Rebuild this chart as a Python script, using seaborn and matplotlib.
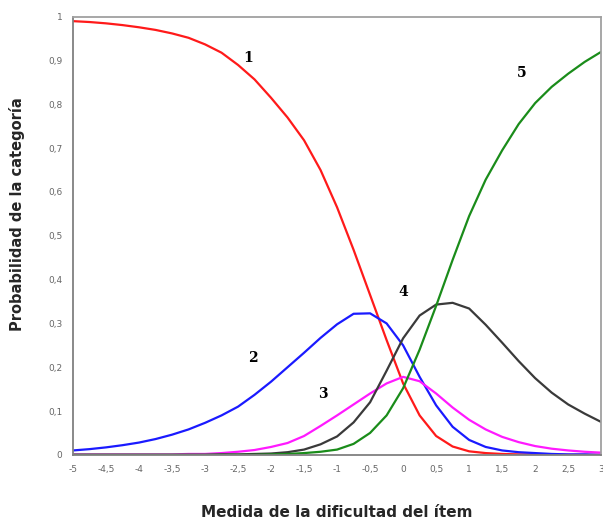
import numpy as np
import pandas as pd
import matplotlib
matplotlib.use('Agg')
import matplotlib.pyplot as plt
import seaborn as sns
from matplotlib.ticker import FuncFormatter, MultipleLocator

# medida de la dificultad del ítem (cada 0,25)
theta = [-5, -4.75, -4.5, -4.25, -4, -3.75, -3.5, -3.25, -3, -2.75, -2.5,
         -2.25, -2, -1.75, -1.5, -1.25, -1, -0.75, -0.5, -0.25, 0, 0.25,
         0.5, 0.75, 1, 1.25, 1.5, 1.75, 2, 2.25, 2.5, 2.75, 3]

# probabilidad de cada categoría
cat1 = [0.990, 0.988, 0.985, 0.981, 0.976, 0.970, 0.962, 0.952, 0.937, 0.918,
        0.890, 0.857, 0.815, 0.770, 0.718, 0.650, 0.565, 0.468, 0.365, 0.262,
        0.163, 0.090, 0.043, 0.019, 0.008, 0.004, 0.002, 0.001, 0.001, 0.0,
        0.0, 0.0, 0.0]
cat2 = [0.010, 0.013, 0.017, 0.022, 0.028, 0.036, 0.046, 0.058, 0.073, 0.090,
        0.110, 0.137, 0.167, 0.200, 0.233, 0.267, 0.298, 0.322, 0.323, 0.300,
        0.250, 0.178, 0.113, 0.064, 0.034, 0.018, 0.010, 0.006, 0.004, 0.002,
        0.001, 0.001, 0.0]
cat3 = [0.001, 0.001, 0.001, 0.001, 0.001, 0.001, 0.001, 0.002, 0.002, 0.004,
        0.007, 0.011, 0.018, 0.027, 0.043, 0.066, 0.090, 0.115, 0.140, 0.163,
        0.178, 0.168, 0.140, 0.108, 0.080, 0.058, 0.041, 0.029, 0.020, 0.014,
        0.010, 0.007, 0.005]
cat4 = [0.0, 0.0, 0.0, 0.0, 0.0, 0.0, 0.0, 0.0, 0.0, 0.001,
        0.001, 0.002, 0.003, 0.006, 0.012, 0.024, 0.042, 0.074, 0.120, 0.192,
        0.266, 0.318, 0.343, 0.347, 0.334, 0.297, 0.256, 0.214, 0.175, 0.142,
        0.115, 0.094, 0.075]
cat5 = [0.0, 0.0, 0.0, 0.0, 0.0, 0.0, 0.0, 0.0, 0.0, 0.0,
        0.0, 0.0, 0.001, 0.002, 0.004, 0.007, 0.012, 0.025, 0.050, 0.090,
        0.152, 0.240, 0.340, 0.445, 0.545, 0.628, 0.695, 0.755, 0.803, 0.840,
        0.870, 0.897, 0.920]

categorias = ['1', '2', '3', '4', '5']
colores = ['#ff1a1a', '#1a1aff', '#ff1aff', '#3a3a3a', '#1a8c1a']

# posiciones de las etiquetas de cada curva
etiq_x = [-2.35, -2.28, -1.21, 0.0, 1.8]
etiq_y = [0.905, 0.222, 0.14, 0.372, 0.872]

df = pd.DataFrame({
    'theta': theta * 5,
    'prob': cat1 + cat2 + cat3 + cat4 + cat5,
    'categoria': [c for c in categorias for _ in theta],
})

sns.set_style('white')
plt.rcParams['font.family'] = ['DejaVu Sans']

fig = plt.figure(figsize=(6.03, 5.24), dpi=100)
ax = fig.add_axes([0.121, 0.132, 0.876, 0.836])

sns.lineplot(data=df, x='theta', y='prob', hue='categoria',
             palette=dict(zip(categorias, colores)), linewidth=1.6,
             legend=False, ax=ax)

for c, xx, yy in zip(categorias, etiq_x, etiq_y):
    ax.text(xx, yy, c, fontsize=10, fontweight='bold', family='DejaVu Serif',
            ha='center', va='center', color='black')

ax.set_xlim(-5, 3)
ax.set_ylim(0, 1)
ax.xaxis.set_major_locator(MultipleLocator(0.5))
ax.yaxis.set_major_locator(MultipleLocator(0.1))
coma = FuncFormatter(lambda v, p: ('%g' % round(v, 2)).replace('.', ','))
ax.xaxis.set_major_formatter(coma)
ax.yaxis.set_major_formatter(coma)
ax.tick_params(axis='both', direction='inout', length=5, width=1,
               color='#808080', labelsize=6.5, labelcolor='#666666', pad=5)

for lado in ['left', 'bottom']:
    ax.spines[lado].set_color('#808080')
    ax.spines[lado].set_linewidth(1.3)
for lado in ['top', 'right']:
    ax.spines[lado].set_color('#a0a0a0')
    ax.spines[lado].set_linewidth(1.3)

ax.set_xlabel('Medida de la dificultad del ítem', fontsize=11,
              fontweight='bold', labelpad=22)
ax.set_ylabel('Probabilidad de la categoría', fontsize=10.5,
              fontweight='bold', labelpad=14)
ax.yaxis.set_label_coords(-0.09, 0.55)

fig.savefig('out.png', dpi=100)
